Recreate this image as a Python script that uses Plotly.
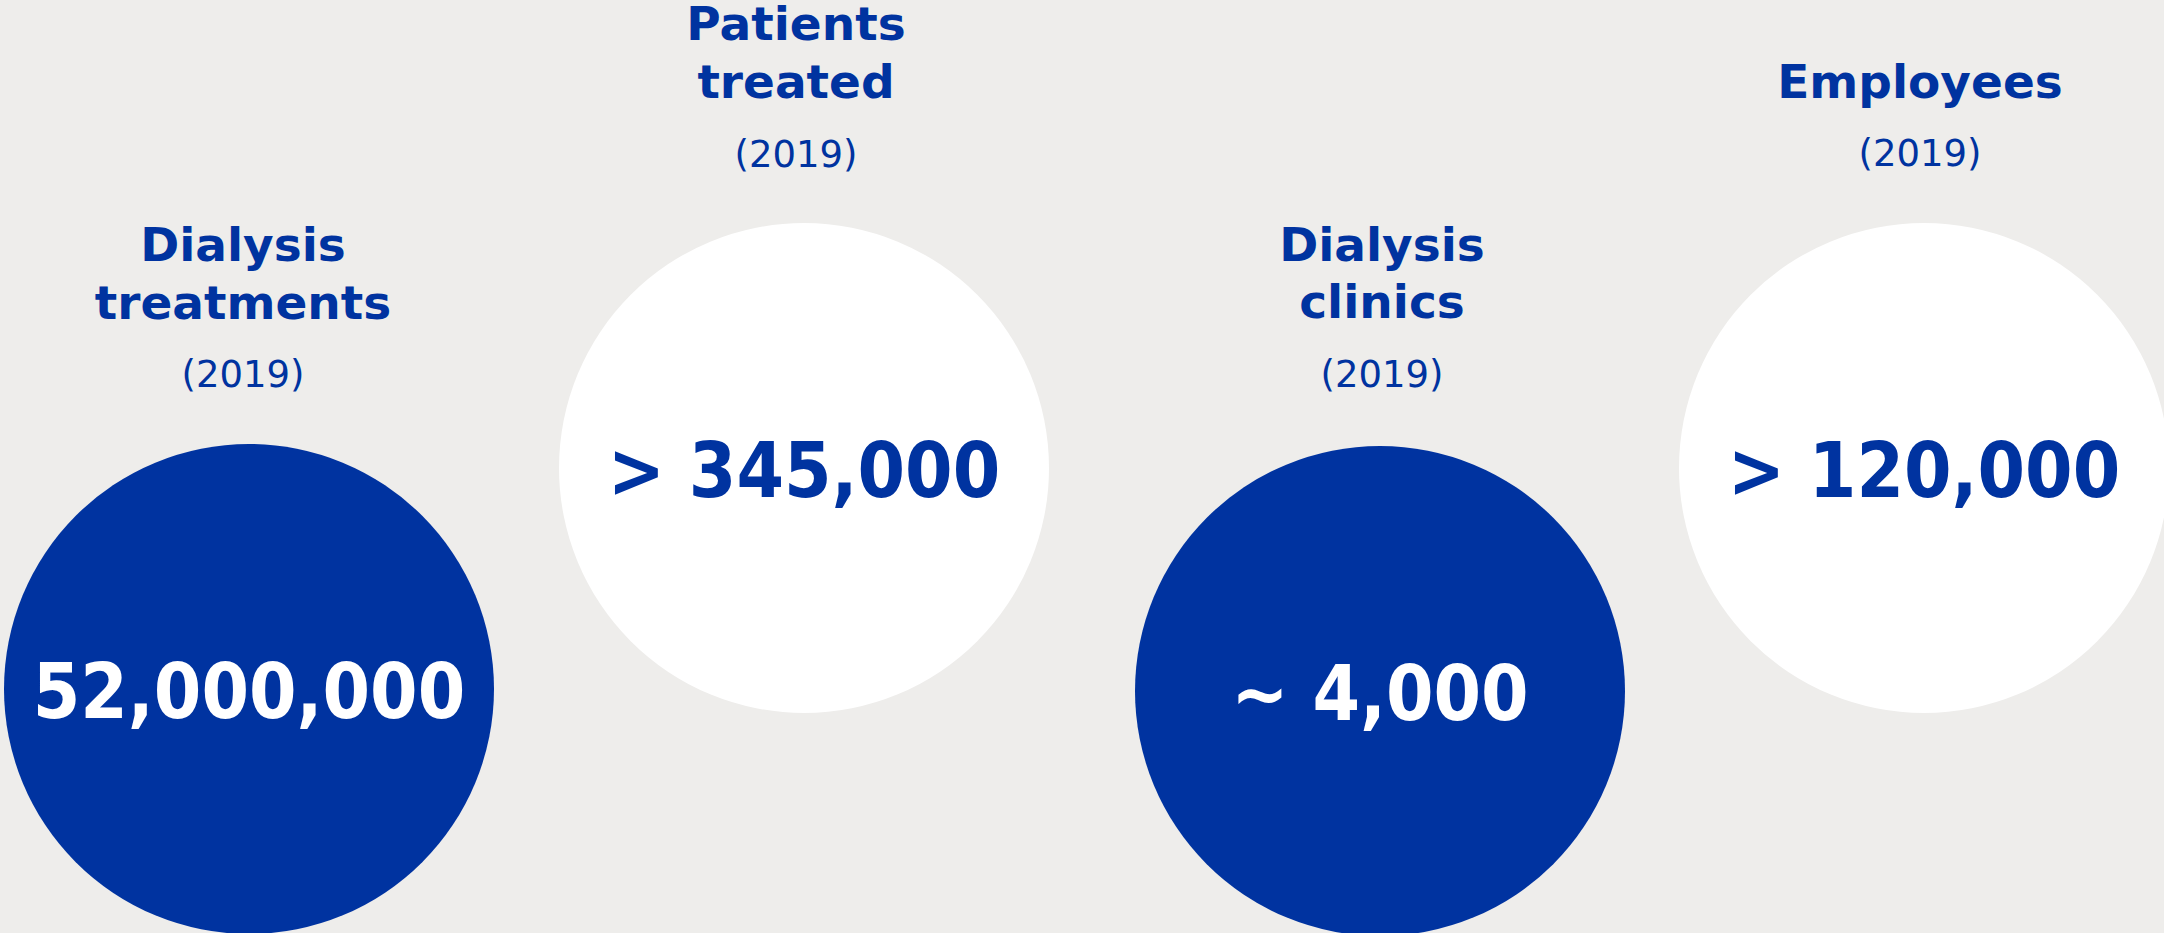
import plotly.graph_objects as go

# ---- data ----
categories = ["Dialysis treatments", "Patients treated", "Dialysis clinics", "Employees"]
title_lines = [["Dialysis", "treatments"], ["Patients", "treated"], ["Dialysis", "clinics"], ["Employees"]]
year_labels = ["(2019)", "(2019)", "(2019)", "(2019)"]
value_labels = ["52,000,000", "> 345,000", "~ 4,000", "> 120,000"]

# ---- layout / style ----
W, H = 2164, 933
BLUE = "#0033A0"
BG = "#EEEDEB"
circle_x = [249, 804, 1380, 1924]
circle_y = [689, 468, 691, 468]
circle_d = 490
circle_fill = [BLUE, "white", BLUE, "white"]
value_color = ["white", BLUE, "white", BLUE]
header_x = [243, 796, 1382, 1920]
year_y = [373.5, 152.8, 373.3, 152.5]
title_to_year = 72.5
line_gap = 57.5
VALUE_SIZE, TITLE_SIZE, YEAR_SIZE = 76, 47, 37
SHIFT = 0.125  # text baseline correction, in em

fig = go.Figure()

# circles
fig.add_trace(go.Scatter(
    x=circle_x, y=circle_y, mode="markers",
    marker=dict(size=circle_d, color=circle_fill, line=dict(width=0), opacity=1),
    hoverinfo="skip",
))
# values
fig.add_trace(go.Scatter(
    x=circle_x, y=[v + SHIFT * VALUE_SIZE for v in circle_y], mode="text",
    text=value_labels, textposition="middle center",
    textfont=dict(family="DejaVu Sans Condensed, DejaVu Sans", size=VALUE_SIZE,
                  color=value_color, weight="bold"),
    hoverinfo="skip", cliponaxis=False,
))

# header lines
tx, ty, tt = [], [], []
for i, lines in enumerate(title_lines):
    last = year_y[i] - title_to_year
    n = len(lines)
    for j, ln in enumerate(lines):
        tx.append(header_x[i])
        ty.append(last - (n - 1 - j) * line_gap + SHIFT * TITLE_SIZE)
        tt.append(ln)
fig.add_trace(go.Scatter(
    x=tx, y=ty, mode="text", text=tt, textposition="middle center",
    textfont=dict(family="DejaVu Sans", size=TITLE_SIZE, color=BLUE, weight="bold"),
    hoverinfo="skip", cliponaxis=False,
))
fig.add_trace(go.Scatter(
    x=header_x, y=[v + SHIFT * YEAR_SIZE for v in year_y], mode="text",
    text=year_labels, textposition="middle center",
    textfont=dict(family="DejaVu Sans", size=YEAR_SIZE, color=BLUE),
    hoverinfo="skip", cliponaxis=False,
))

fig.update_layout(
    width=W, height=H, margin=dict(l=0, r=0, t=0, b=0),
    paper_bgcolor=BG, plot_bgcolor=BG, showlegend=False, hovermode=False,
    xaxis=dict(range=[0, W], visible=False, fixedrange=True),
    yaxis=dict(range=[H, 0], visible=False, fixedrange=True),
)
fig.write_html(
    "out.html",
    config={"displayModeBar": False},
    post_script="document.body.style.margin='0';document.body.style.overflow='hidden';",
)
